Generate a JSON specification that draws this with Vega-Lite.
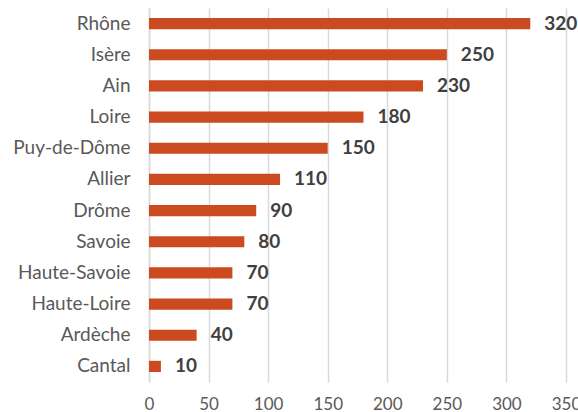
{
  "$schema": "https://vega.github.io/schema/vega-lite/v6.json",
  "width": 417,
  "height": 374,
  "autosize": {"type": "none"},
  "padding": {"left": 149, "top": 8, "right": 12, "bottom": 30},
  "background": "white",
  "config": {"view": {"stroke": null}, "font": "Lato"},
  "data": {
    "values": [
      {"dept": "Rhône", "value": 320},
      {"dept": "Isère", "value": 250},
      {"dept": "Ain", "value": 230},
      {"dept": "Loire", "value": 180},
      {"dept": "Puy-de-Dôme", "value": 150},
      {"dept": "Allier", "value": 110},
      {"dept": "Drôme", "value": 90},
      {"dept": "Savoie", "value": 80},
      {"dept": "Haute-Savoie", "value": 70},
      {"dept": "Haute-Loire", "value": 70},
      {"dept": "Ardèche", "value": 40},
      {"dept": "Cantal", "value": 10}
    ]
  },
  "encoding": {
    "y": {
      "field": "dept",
      "type": "nominal",
      "sort": null,
      "scale": {"paddingInner": 0.64, "paddingOuter": 0.32},
      "axis": {
        "title": null,
        "ticks": false,
        "domain": true,
        "domainColor": "#D9D9D9",
        "domainWidth": 1.5,
        "labelFont": "Lato",
        "labelFontSize": 19,
        "labelColor": "#595959",
        "labelPadding": 19
      }
    },
    "x": {
      "field": "value",
      "type": "quantitative",
      "scale": {"domain": [0, 350], "nice": false},
      "axis": {
        "title": null,
        "values": [0, 50, 100, 150, 200, 250, 300, 350],
        "ticks": false,
        "domain": false,
        "grid": true,
        "gridColor": "#D9D9D9",
        "gridWidth": 1.5,
        "labelFont": "Lato",
        "labelFontSize": 17,
        "labelColor": "#595959",
        "labelPadding": 14,
        "labelFlush": false
      }
    }
  },
  "layer": [
    {"mark": {"type": "bar", "color": "#CC4A1F"}},
    {
      "mark": {"type": "text", "align": "left", "dx": 14, "fontSize": 19, "fontWeight": "bold", "color": "#404040", "font": "Lato"},
      "encoding": {"text": {"field": "value", "type": "quantitative"}}
    }
  ]
}
